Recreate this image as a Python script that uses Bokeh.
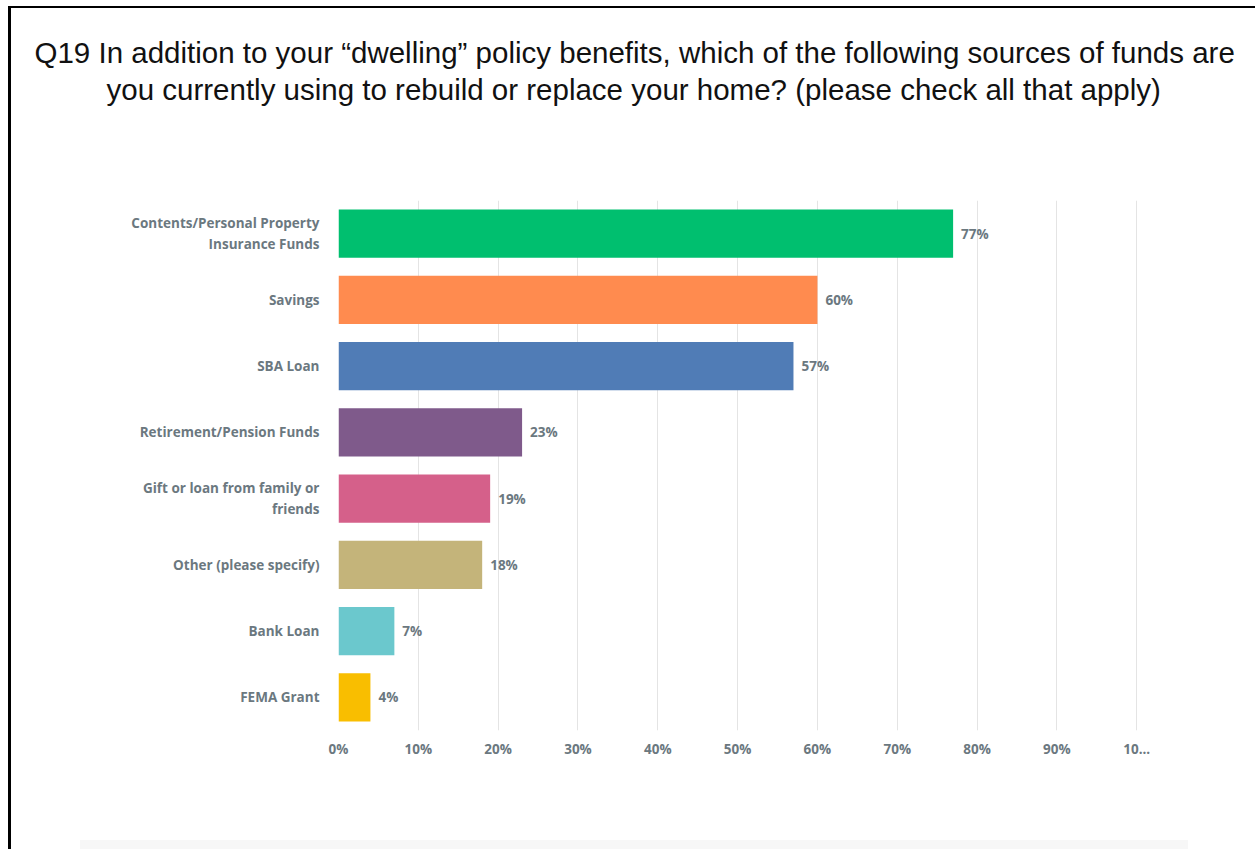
from bokeh.plotting import figure
from bokeh.models import FactorRange, Range1d, FixedTicker, ColumnDataSource, Title
from bokeh.core.properties import value
from bokeh.embed import file_html
from bokeh.resources import INLINE

categories = [
    "Contents/Personal Property\nInsurance Funds",
    "Savings",
    "SBA Loan",
    "Retirement/Pension Funds",
    "Gift or loan from family or\nfriends",
    "Other (please specify)",
    "Bank Loan",
    "FEMA Grant",
]
percents = [77, 60, 57, 23, 19, 18, 7, 4]
colors = ["#00bf6f", "#ff8b4f", "#507cb6", "#7f5a8b", "#d5608a", "#c4b47a", "#6bc8cd", "#f9be00"]
tick_values = [0, 10, 20, 30, 40, 50, 60, 70, 80, 90, 100]
tick_labels = ["0%", "10%", "20%", "30%", "40%", "50%", "60%", "70%", "80%", "90%", "10..."]
title_line1 = "Q19 In addition to your \u201cdwelling\u201d policy benefits, which of the following sources of funds are"
title_line2 = "you currently using to rebuild or replace your home? (please check all that apply)"

label_color = "#6b787f"
font = "Open Sans"

source = ColumnDataSource(dict(
    cat=categories,
    pct=percents,
    color=colors,
    txt=[f"{v}%" for v in percents],
))

p = figure(
    width=1247, height=843,
    y_range=FactorRange(*reversed(categories)),
    x_range=Range1d(0, 100.1),
    output_backend="svg", toolbar_location=None,
    min_border_left=327, min_border_right=121,
    min_border_top=192, min_border_bottom=121,
)
p.styles = {
    "border-top": "2px solid black",
    "border-left": "3px solid black",
    "background": "linear-gradient(#f7f7f7, #f7f7f7) 69px 832px / 1108px 11px no-repeat, #ffffff",
}
p.margin = (6, 0, 0, 8)
p.outline_line_color = None
p.background_fill_color = "white"
p.border_fill_color = None

title_style = dict(text_font="Liberation Sans", text_font_style="normal",
                   text_font_size="29.5px", text_color="#111111", align="left")
p.title.text = title_line1
p.title.offset = -304
p.title.standoff = 2
for k, v in title_style.items():
    setattr(p.title, k, v)
# empty spacer panel between the frame and the title lines
p.add_layout(Title(text=" ", standoff=59, **title_style), "above")
p.add_layout(Title(text=title_line2, offset=-232, standoff=2, **title_style), "above")

p.hbar(y="cat", right="pct", left=0, height=0.725, color="color", source=source, line_color=None)
p.text(x="pct", y="cat", text="txt", source=source, x_offset=8,
       text_baseline="middle", text_align="left", text_font=value(font),
       text_font_style="bold", text_font_size="13.5px", text_color=label_color)

# axes
p.xaxis.ticker = FixedTicker(ticks=tick_values)
p.xaxis.major_label_overrides = {v: l for v, l in zip(tick_values, tick_labels)}
for ax in (p.xaxis[0], p.yaxis[0]):
    ax.axis_line_color = None
    ax.major_tick_line_color = None
    ax.minor_tick_line_color = None
    ax.major_label_text_font = font
    ax.major_label_text_font_style = "bold"
    ax.major_label_text_font_size = "13.5px"
    ax.major_label_text_color = label_color
p.xaxis.major_label_standoff = 3
p.yaxis.major_label_standoff = 13

p.xgrid.grid_line_color = "#e4e4e4"
p.xgrid.grid_line_width = 1
p.ygrid.grid_line_color = None

open("out.html", "w").write(file_html(p, INLINE))
